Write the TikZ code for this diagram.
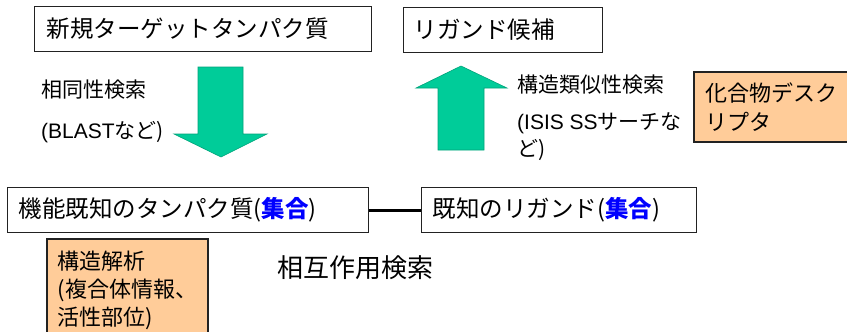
\documentclass[tikz,border=0pt]{standalone}
\usepackage{fontspec}
\setmainfont{Noto Sans CJK JP}
\newfontfamily\lat{Liberation Sans}
\definecolor{arrowgreen}{RGB}{0,204,153}
\definecolor{descorange}{RGB}{255,204,153}
\definecolor{setblue}{RGB}{0,0,255}
\definecolor{linegray}{RGB}{34,34,34}
\newcommand{\setword}{{\color{setblue}\bfseries 集合}}
\begin{document}
\begin{tikzpicture}[x=1pt,y=-1pt,
  box/.style={draw=linegray,line width=1.2pt,fill=white,anchor=north west,inner ysep=0pt,minimum height=45pt,align=left,font=\fontsize{23.5}{28}\selectfont},
  descbox/.style={draw=linegray,line width=1.8pt,fill=descorange,anchor=north west,align=left},
  note/.style={inner sep=0pt,anchor=west},
  labelnote/.style={note,font=\fontsize{21}{24}\selectfont},
  bigarrow/.style={fill=arrowgreen,draw=arrowgreen!80!black,line width=0.6pt}]
\useasboundingbox (0,0) rectangle (847,332);
\fill[white] (0,0) rectangle (847,332);

% boxes
\node[box,text width=313pt,inner xsep=12pt] (target) at (34,6) {新規ターゲットタンパク質};
\node[box,text width=179pt,inner xsep=10pt] (cand) at (403,7) {リガンド候補};
\node[box,text width=339pt,inner xsep=11pt] (known) at (7,187) {機能既知のタンパク質(\setword)};
\node[box,text width=253pt,inner xsep=11pt] (ligs) at (421,187) {既知のリガンド(\setword)};

% descriptor boxes
\node[descbox,text width=150pt,inner xsep=12pt,minimum height=70pt,font=\fontsize{22}{29}\selectfont] (desc) at (693,71) {化合物デスク\\リプタ};
\node[descbox,text width=139pt,inner xsep=11pt,inner ysep=12pt,font=\fontsize{22}{28}\selectfont] (struct) at (46,238) {構造解析\\(複合体情報、\\活性部位)};

% block arrows
\path[bigarrow] (198,67) -- (243,67) -- (243,134) -- (267,134) -- (221,157) -- (174,134) -- (198,134) -- cycle;
\path[bigarrow] (438,150) -- (484,150) -- (484,88) -- (507,88) -- (461,66) -- (416,88) -- (438,88) -- cycle;

% labels
\node[labelnote] (hom) at (41,90) {相同性検索};
\node[labelnote] (blast) at (41,132) {{\lat(BLAST}など)};
\node[labelnote] (sim) at (517,85) {構造類似性検索};
\node[labelnote] (isis) at (517,123) {{\lat(ISIS SS}サーチな};
\node[labelnote] (isisb) at (517,150) {ど)};
\node[note,font=\fontsize{26}{29}\selectfont] (inter) at (277,268) {相互作用検索};

% connector
\draw[draw=black,line width=3pt] (known) -- (ligs);
\end{tikzpicture}
\end{document}
